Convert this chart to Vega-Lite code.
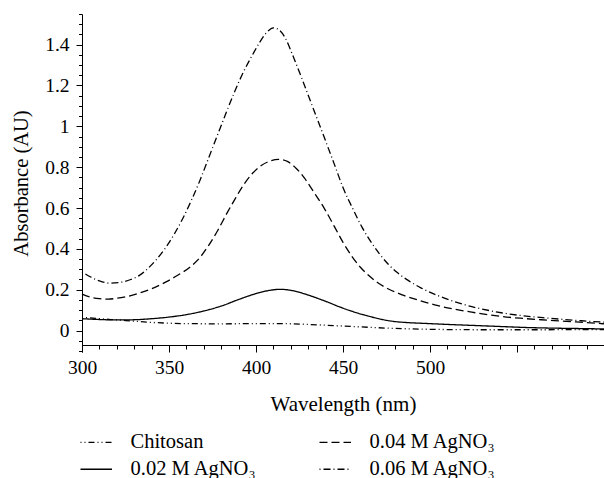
{
  "$schema": "https://vega.github.io/schema/vega-lite/v6.json",
  "autosize": "none",
  "width": 522,
  "height": 338,
  "padding": {"left": 82, "top": 14, "right": 0, "bottom": 126},
  "config": {"view": {"stroke": null}, "font": "Liberation Serif"},
  "data": {"values": [
    {"s": "Chitosan", "x": 300, "y": 0.065},
    {"s": "Chitosan", "x": 310, "y": 0.058},
    {"s": "Chitosan", "x": 320, "y": 0.052},
    {"s": "Chitosan", "x": 330, "y": 0.046},
    {"s": "Chitosan", "x": 340, "y": 0.040},
    {"s": "Chitosan", "x": 350, "y": 0.036},
    {"s": "Chitosan", "x": 360, "y": 0.034},
    {"s": "Chitosan", "x": 380, "y": 0.033},
    {"s": "Chitosan", "x": 400, "y": 0.034},
    {"s": "Chitosan", "x": 415, "y": 0.034},
    {"s": "Chitosan", "x": 430, "y": 0.030},
    {"s": "Chitosan", "x": 445, "y": 0.024},
    {"s": "Chitosan", "x": 460, "y": 0.018},
    {"s": "Chitosan", "x": 475, "y": 0.012},
    {"s": "Chitosan", "x": 490, "y": 0.008},
    {"s": "Chitosan", "x": 510, "y": 0.005},
    {"s": "Chitosan", "x": 530, "y": 0.004},
    {"s": "Chitosan", "x": 560, "y": 0.004},
    {"s": "Chitosan", "x": 600, "y": 0.005},
    {"s": "0.02 M AgNO₃", "x": 300, "y": 0.058},
    {"s": "0.02 M AgNO₃", "x": 310, "y": 0.054},
    {"s": "0.02 M AgNO₃", "x": 320, "y": 0.052},
    {"s": "0.02 M AgNO₃", "x": 330, "y": 0.053},
    {"s": "0.02 M AgNO₃", "x": 340, "y": 0.058},
    {"s": "0.02 M AgNO₃", "x": 350, "y": 0.066},
    {"s": "0.02 M AgNO₃", "x": 360, "y": 0.078},
    {"s": "0.02 M AgNO₃", "x": 370, "y": 0.096},
    {"s": "0.02 M AgNO₃", "x": 380, "y": 0.120},
    {"s": "0.02 M AgNO₃", "x": 390, "y": 0.152},
    {"s": "0.02 M AgNO₃", "x": 400, "y": 0.181},
    {"s": "0.02 M AgNO₃", "x": 408, "y": 0.197},
    {"s": "0.02 M AgNO₃", "x": 414, "y": 0.202},
    {"s": "0.02 M AgNO₃", "x": 420, "y": 0.197},
    {"s": "0.02 M AgNO₃", "x": 427, "y": 0.182},
    {"s": "0.02 M AgNO₃", "x": 434, "y": 0.162},
    {"s": "0.02 M AgNO₃", "x": 441, "y": 0.140},
    {"s": "0.02 M AgNO₃", "x": 448, "y": 0.116},
    {"s": "0.02 M AgNO₃", "x": 456, "y": 0.092},
    {"s": "0.02 M AgNO₃", "x": 464, "y": 0.072},
    {"s": "0.02 M AgNO₃", "x": 471, "y": 0.057},
    {"s": "0.02 M AgNO₃", "x": 478, "y": 0.046},
    {"s": "0.02 M AgNO₃", "x": 487, "y": 0.039},
    {"s": "0.02 M AgNO₃", "x": 497, "y": 0.035},
    {"s": "0.02 M AgNO₃", "x": 510, "y": 0.030},
    {"s": "0.02 M AgNO₃", "x": 525, "y": 0.025},
    {"s": "0.02 M AgNO₃", "x": 540, "y": 0.020},
    {"s": "0.02 M AgNO₃", "x": 555, "y": 0.015},
    {"s": "0.02 M AgNO₃", "x": 570, "y": 0.012},
    {"s": "0.02 M AgNO₃", "x": 585, "y": 0.010},
    {"s": "0.02 M AgNO₃", "x": 600, "y": 0.008},
    {"s": "0.04 M AgNO₃", "x": 300, "y": 0.178},
    {"s": "0.04 M AgNO₃", "x": 305, "y": 0.163},
    {"s": "0.04 M AgNO₃", "x": 310, "y": 0.156},
    {"s": "0.04 M AgNO₃", "x": 315, "y": 0.154},
    {"s": "0.04 M AgNO₃", "x": 320, "y": 0.158},
    {"s": "0.04 M AgNO₃", "x": 326, "y": 0.167},
    {"s": "0.04 M AgNO₃", "x": 332, "y": 0.181},
    {"s": "0.04 M AgNO₃", "x": 340, "y": 0.205},
    {"s": "0.04 M AgNO₃", "x": 348, "y": 0.237},
    {"s": "0.04 M AgNO₃", "x": 355, "y": 0.271},
    {"s": "0.04 M AgNO₃", "x": 362, "y": 0.310},
    {"s": "0.04 M AgNO₃", "x": 368, "y": 0.360},
    {"s": "0.04 M AgNO₃", "x": 373, "y": 0.420},
    {"s": "0.04 M AgNO₃", "x": 378, "y": 0.490},
    {"s": "0.04 M AgNO₃", "x": 383, "y": 0.570},
    {"s": "0.04 M AgNO₃", "x": 388, "y": 0.645},
    {"s": "0.04 M AgNO₃", "x": 393, "y": 0.715},
    {"s": "0.04 M AgNO₃", "x": 398, "y": 0.770},
    {"s": "0.04 M AgNO₃", "x": 403, "y": 0.808},
    {"s": "0.04 M AgNO₃", "x": 408, "y": 0.830},
    {"s": "0.04 M AgNO₃", "x": 413, "y": 0.838},
    {"s": "0.04 M AgNO₃", "x": 418, "y": 0.828},
    {"s": "0.04 M AgNO₃", "x": 423, "y": 0.795},
    {"s": "0.04 M AgNO₃", "x": 428, "y": 0.745},
    {"s": "0.04 M AgNO₃", "x": 433, "y": 0.681},
    {"s": "0.04 M AgNO₃", "x": 439, "y": 0.602},
    {"s": "0.04 M AgNO₃", "x": 445, "y": 0.510},
    {"s": "0.04 M AgNO₃", "x": 450, "y": 0.432},
    {"s": "0.04 M AgNO₃", "x": 455, "y": 0.365},
    {"s": "0.04 M AgNO₃", "x": 460, "y": 0.310},
    {"s": "0.04 M AgNO₃", "x": 465, "y": 0.268},
    {"s": "0.04 M AgNO₃", "x": 470, "y": 0.234},
    {"s": "0.04 M AgNO₃", "x": 477, "y": 0.200},
    {"s": "0.04 M AgNO₃", "x": 484, "y": 0.175},
    {"s": "0.04 M AgNO₃", "x": 494, "y": 0.147},
    {"s": "0.04 M AgNO₃", "x": 504, "y": 0.123},
    {"s": "0.04 M AgNO₃", "x": 514, "y": 0.105},
    {"s": "0.04 M AgNO₃", "x": 524, "y": 0.090},
    {"s": "0.04 M AgNO₃", "x": 534, "y": 0.077},
    {"s": "0.04 M AgNO₃", "x": 544, "y": 0.066},
    {"s": "0.04 M AgNO₃", "x": 554, "y": 0.059},
    {"s": "0.04 M AgNO₃", "x": 564, "y": 0.053},
    {"s": "0.04 M AgNO₃", "x": 575, "y": 0.047},
    {"s": "0.04 M AgNO₃", "x": 586, "y": 0.041},
    {"s": "0.04 M AgNO₃", "x": 600, "y": 0.033},
    {"s": "0.06 M AgNO₃", "x": 300, "y": 0.288},
    {"s": "0.06 M AgNO₃", "x": 305, "y": 0.262},
    {"s": "0.06 M AgNO₃", "x": 310, "y": 0.243},
    {"s": "0.06 M AgNO₃", "x": 316, "y": 0.232},
    {"s": "0.06 M AgNO₃", "x": 322, "y": 0.236},
    {"s": "0.06 M AgNO₃", "x": 328, "y": 0.250},
    {"s": "0.06 M AgNO₃", "x": 333, "y": 0.270},
    {"s": "0.06 M AgNO₃", "x": 338, "y": 0.305},
    {"s": "0.06 M AgNO₃", "x": 343, "y": 0.350},
    {"s": "0.06 M AgNO₃", "x": 348, "y": 0.405},
    {"s": "0.06 M AgNO₃", "x": 353, "y": 0.472},
    {"s": "0.06 M AgNO₃", "x": 358, "y": 0.550},
    {"s": "0.06 M AgNO₃", "x": 363, "y": 0.640},
    {"s": "0.06 M AgNO₃", "x": 368, "y": 0.740},
    {"s": "0.06 M AgNO₃", "x": 373, "y": 0.850},
    {"s": "0.06 M AgNO₃", "x": 378, "y": 0.960},
    {"s": "0.06 M AgNO₃", "x": 383, "y": 1.070},
    {"s": "0.06 M AgNO₃", "x": 388, "y": 1.175},
    {"s": "0.06 M AgNO₃", "x": 393, "y": 1.270},
    {"s": "0.06 M AgNO₃", "x": 398, "y": 1.350},
    {"s": "0.06 M AgNO₃", "x": 402, "y": 1.410},
    {"s": "0.06 M AgNO₃", "x": 406, "y": 1.458},
    {"s": "0.06 M AgNO₃", "x": 410, "y": 1.482},
    {"s": "0.06 M AgNO₃", "x": 413, "y": 1.474},
    {"s": "0.06 M AgNO₃", "x": 417, "y": 1.430},
    {"s": "0.06 M AgNO₃", "x": 421, "y": 1.350},
    {"s": "0.06 M AgNO₃", "x": 427, "y": 1.220},
    {"s": "0.06 M AgNO₃", "x": 433, "y": 1.085},
    {"s": "0.06 M AgNO₃", "x": 439, "y": 0.951},
    {"s": "0.06 M AgNO₃", "x": 445, "y": 0.815},
    {"s": "0.06 M AgNO₃", "x": 450, "y": 0.700},
    {"s": "0.06 M AgNO₃", "x": 456, "y": 0.590},
    {"s": "0.06 M AgNO₃", "x": 461, "y": 0.505},
    {"s": "0.06 M AgNO₃", "x": 466, "y": 0.435},
    {"s": "0.06 M AgNO₃", "x": 471, "y": 0.375},
    {"s": "0.06 M AgNO₃", "x": 476, "y": 0.325},
    {"s": "0.06 M AgNO₃", "x": 481, "y": 0.285},
    {"s": "0.06 M AgNO₃", "x": 487, "y": 0.248},
    {"s": "0.06 M AgNO₃", "x": 495, "y": 0.208},
    {"s": "0.06 M AgNO₃", "x": 504, "y": 0.173},
    {"s": "0.06 M AgNO₃", "x": 514, "y": 0.142},
    {"s": "0.06 M AgNO₃", "x": 524, "y": 0.117},
    {"s": "0.06 M AgNO₃", "x": 534, "y": 0.098},
    {"s": "0.06 M AgNO₃", "x": 544, "y": 0.083},
    {"s": "0.06 M AgNO₃", "x": 554, "y": 0.072},
    {"s": "0.06 M AgNO₃", "x": 565, "y": 0.063},
    {"s": "0.06 M AgNO₃", "x": 576, "y": 0.055},
    {"s": "0.06 M AgNO₃", "x": 587, "y": 0.048},
    {"s": "0.06 M AgNO₃", "x": 600, "y": 0.041}
  ]},
  "mark": {"type": "line", "interpolate": "monotone", "color": "black", "strokeWidth": 1.3},
  "encoding": {
    "x": {
      "field": "x", "type": "quantitative",
      "scale": {"domain": [300, 600], "nice": false, "zero": false},
      "axis": {
        "title": "Wavelength (nm)",
        "values": [300,310,320,330,340,350,360,370,380,390,400,410,420,430,440,450,460,470,480,490,500,510,520,530,540,550,560,570,580,590,600],
        "labelExpr": "datum.value <= 500 && datum.value % 50 === 0 ? datum.label : ''",
        "tickSize": {"condition": {"test": "datum.value % 50 === 0", "value": 7}, "value": 4},
        "offset": -7,
        "grid": false,
        "domainColor": "black", "tickColor": "black", "labelColor": "black", "titleColor": "black",
        "labelFont": "Liberation Serif", "labelFontSize": 19.5, "labelPadding": 6,
        "titleFont": "Liberation Serif", "titleFontSize": 21, "titleFontWeight": "normal", "titlePadding": 17,
        "labelFlush": false, "labelOverlap": false
      }
    },
    "y": {
      "field": "y", "type": "quantitative",
      "scale": {"domain": [-0.105, 1.55], "nice": false, "zero": false},
      "axis": {
        "title": "Absorbance (AU)",
        "values": [-0.1,-0.05,0,0.05,0.1,0.15,0.2,0.25,0.3,0.35,0.4,0.45,0.5,0.55,0.6,0.65,0.7,0.75,0.8,0.85,0.9,0.95,1,1.05,1.1,1.15,1.2,1.25,1.3,1.35,1.4,1.45,1.5,1.55],
        "labelExpr": "abs(round(datum.value*20)) % 4 === 0 && datum.value > -0.01 && datum.value < 1.45 ? format(datum.value, '.1~f') : ''",
        "tickSize": {"condition": {"test": "abs(round(datum.value*20)) % 4 === 0", "value": 6}, "value": 3.5},
        "grid": false,
        "domainColor": "black", "tickColor": "black", "labelColor": "black", "titleColor": "black",
        "labelFont": "Liberation Serif", "labelFontSize": 19.5, "labelPadding": 7,
        "titleFont": "Liberation Serif", "titleFontSize": 20.5, "titleFontWeight": "normal", "titlePadding": 13,
        "labelFlush": false, "labelOverlap": false
      }
    },
    "strokeDash": {
      "field": "s", "type": "nominal",
      "scale": {
        "domain": ["Chitosan", "0.02 M AgNO₃", "0.04 M AgNO₃", "0.06 M AgNO₃"],
        "range": [[1,3,1,3,6,3], [1,0], [8,4], [1,3,7,3]]
      },
      "legend": {
        "title": null,
        "orient": "none",
        "legendX": 4,
        "legendY": 418,
        "columns": 2,
        "columnPadding": 59,
        "rowPadding": 6,
        "padding": 0,
        "symbolType": "M-2,0H2",
        "symbolSize": 248,
        "symbolStrokeColor": "black",
        "symbolStrokeWidth": 1.3,
        "labelOffset": 24,
        "labelFont": "Liberation Serif",
        "labelFontSize": 20.5,
        "labelColor": "black",
        "labelLimit": 300
      }
    }
  }
}
